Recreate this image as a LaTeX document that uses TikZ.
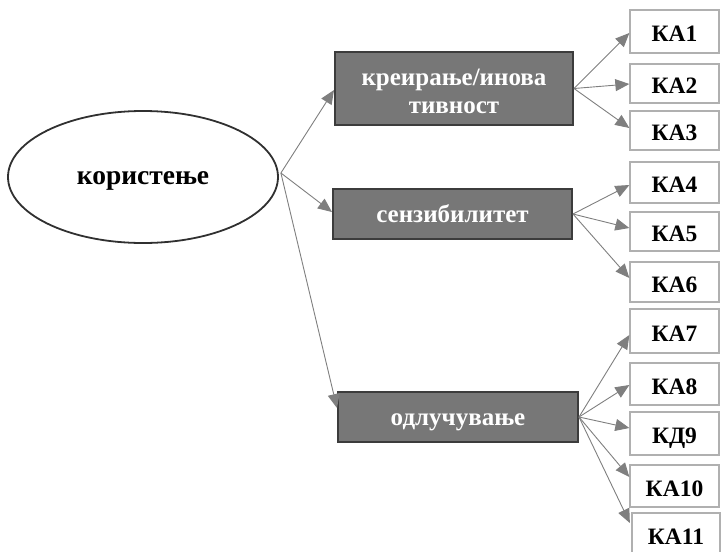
\documentclass[tikz,border=0pt]{standalone}
\usepackage{fontspec}
\setmainfont{Liberation Serif}
\usetikzlibrary{arrows.meta,shapes.geometric}
\definecolor{boxfill}{HTML}{777777}
\definecolor{boxline}{HTML}{3C3C3C}
\definecolor{leafline}{HTML}{B0B0B0}
\definecolor{arrowgray}{HTML}{7F7F7F}
\definecolor{ellline}{HTML}{303030}
\begin{document}
\begin{tikzpicture}[x=1pt,y=-1pt,
  rootnode/.style={ellipse, draw=ellline, line width=1.8pt, fill=white,
    minimum width=270pt, minimum height=132pt, inner sep=0pt,
    text height=15pt, text depth=0pt,
    font=\fontsize{27.5}{30}\selectfont\bfseries},
  factor/.style={rectangle, draw=boxline, line width=2pt, fill=boxfill,
    text=white, inner sep=0pt, align=center,
    font=\fontsize{25}{28}\selectfont\bfseries},
  oneline/.style={text height=17pt, text depth=0pt},
  twoline/.style={text height=49pt, text depth=0pt},
  leaf/.style={rectangle, draw=leafline, line width=1.3pt, fill=white,
    minimum width=89pt, inner sep=0pt,
    text height=20.5pt, text depth=0pt,
    font=\fontsize{23.5}{26}\selectfont\bfseries},
  link/.style={draw=arrowgray, line width=0.9pt,
    -{Triangle[length=14pt,width=12pt,fill=arrowgray]}}]
\useasboundingbox (0,0) rectangle (721,552);

% root construct
\node[rootnode] (ell) at (143,177) {користење};

% first-level factors
\node[factor, twoline, minimum width=238pt, minimum height=73pt] (b1) at (454,88.5)
  {креирање/инова\\тивност};
\node[factor, oneline, minimum width=239pt, minimum height=50pt] (b2) at (452.5,214)
  {сензибилитет};
\node[factor, oneline, minimum width=240pt, minimum height=50pt] (b3) at (458,417)
  {одлучување};

% indicators
\node[leaf, minimum height=43pt] (ka1) at (674.5,31.5) {КА1};
\node[leaf, minimum height=39pt] (ka2) at (674.5,83.5) {КА2};
\node[leaf, minimum height=39pt] (ka3) at (674.5,130.5) {КА3};
\node[leaf, minimum height=41pt] (ka4) at (674.5,182.5) {КА4};
\node[leaf, minimum height=39pt] (ka5) at (674.5,231.5) {КА5};
\node[leaf, minimum height=40pt] (ka6) at (674.5,282) {КА6};
\node[leaf, minimum height=44pt] (ka7) at (674.5,331) {КА7};
\node[leaf, minimum height=42pt] (ka8) at (674.5,384) {КА8};
\node[leaf, minimum height=43pt] (ka9) at (674.5,433.5) {КД9};
\node[leaf, minimum height=42pt] (ka10) at (674.5,486) {КА10};
\node[leaf, minimum height=42pt, minimum width=88pt] (ka11) at (676,534) {КА11};

% root to factors
\draw[link] ([xshift=2pt,yshift=4pt]ell.east) -- ([yshift=-1.5pt]b1.west);
\draw[link] ([xshift=2pt,yshift=4pt]ell.east) -- ([yshift=2pt]b2.west);
\draw[link] ([xshift=2pt,yshift=4pt]ell.east) -- ([yshift=9pt]b3.west);

% factors to indicators
\draw[link] (b1.east) -- ([yshift=-1.5pt]ka1.west);
\draw[link] (b1.east) -- ([yshift=-0.5pt]ka2.west);
\draw[link] (b1.east) -- ([yshift=2.5pt]ka3.west);
\draw[link] (b2.east) -- ([yshift=-2.5pt]ka4.west);
\draw[link] (b2.east) -- ([yshift=3.5pt]ka5.west);
\draw[link] (b2.east) -- ([yshift=4pt]ka6.west);
\draw[link] (b3.east) -- ([yshift=-4pt]ka7.west);
\draw[link] (b3.east) -- ([yshift=-1pt]ka8.west);
\draw[link] (b3.east) -- ([yshift=5.5pt]ka9.west);
\draw[link] (b3.east) -- ([yshift=9pt]ka10.west);
\draw[link] (b3.east) -- ([yshift=11pt,xshift=-1.5pt]ka11.west);
\end{tikzpicture}
\end{document}
